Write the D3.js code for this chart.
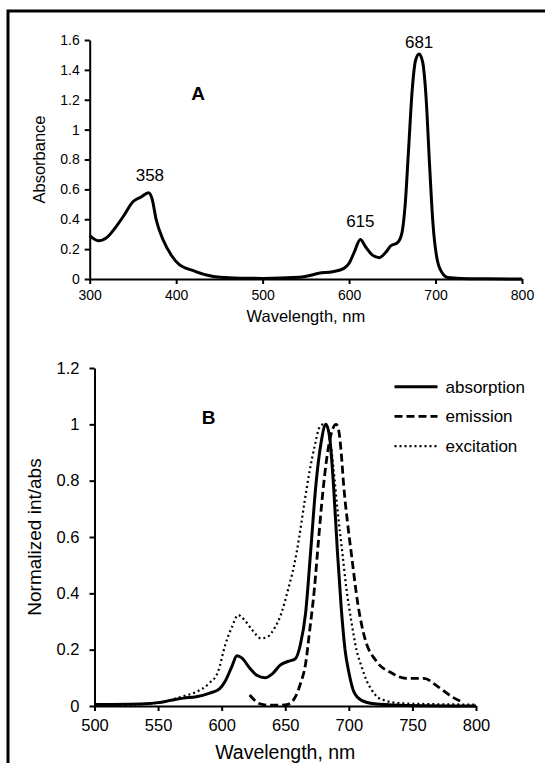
<!DOCTYPE html>
<html>
<head>
<meta charset="utf-8">
<script src="https://cdn.jsdelivr.net/npm/d3@7"></script>
<style>
  body { margin: 0; background: #fff; }
  svg { display: block; font-family: "Liberation Sans", Arial, sans-serif; }
  .axis path, .axis line { stroke: #000; stroke-width: 2; }
  .axis text { fill: #000; }
</style>
</head>
<body>
<div id="chart"></div>
<script>
// panel A: absorbance spectrum
const wlA = [300, 310, 320, 329, 339, 350, 360, 368, 372, 377, 385, 395, 404, 420, 435, 451, 474,
  500, 542, 552, 565, 581, 594, 600, 606, 613, 619, 627, 635, 643, 648, 656, 661, 665, 669, 673,
  677, 681, 685, 689, 693, 697, 702, 708, 714, 730, 760, 800];
const absA = [0.29, 0.256, 0.279, 0.339, 0.42, 0.517, 0.551, 0.578, 0.54, 0.395, 0.261, 0.154, 0.094,
  0.056, 0.027, 0.011, 0.005, 0.004, 0.011, 0.02, 0.038, 0.049, 0.071, 0.105, 0.18, 0.265, 0.216,
  0.16, 0.143, 0.183, 0.221, 0.243, 0.306, 0.507, 0.886, 1.265, 1.466, 1.506, 1.455, 1.22, 0.774,
  0.373, 0.127, 0.038, 0.01, 0.004, 0.002, 0];
const peakLabels = [358, 615, 681];
const peakAt = [
  {wl: 365, y: 0.58},
  {wl: 613, y: 0.266},
  {wl: 681, y: 1.506}
];
const ticksAX = [300, 400, 500, 600, 700, 800];
const ticksAY = [0, 0.2, 0.4, 0.6, 0.8, 1, 1.2, 1.4, 1.6];

// panel B: normalized spectra
const wlAbsB = [500, 540, 550, 560, 570, 580, 590, 598, 603, 608, 612, 616, 622, 628, 634, 640, 646,
  652, 658, 662, 666, 670, 674, 678, 682, 685, 688, 691, 694, 697, 700, 704, 710, 720, 740, 800];
const absB = [0.005, 0.008, 0.012, 0.02, 0.028, 0.033, 0.045, 0.06, 0.09, 0.14, 0.178, 0.17, 0.135,
  0.108, 0.1, 0.115, 0.145, 0.158, 0.168, 0.22, 0.33, 0.55, 0.78, 0.93, 1.0, 0.95, 0.78, 0.55, 0.35,
  0.2, 0.12, 0.05, 0.02, 0.008, 0.003, 0];
const wlEmB = [622, 626, 630, 636, 645, 652, 658, 662, 666, 669, 673, 676, 678.5, 681, 684, 687, 690,
  692, 694, 696, 699, 702, 707, 713, 721, 734, 745, 759, 770, 781, 789];
const emB = [0.039, 0.02, 0.008, 0.003, 0.003, 0.006, 0.033, 0.08, 0.15, 0.26, 0.42, 0.58, 0.71, 0.82,
  0.92, 0.98, 1.0, 0.98, 0.9, 0.78, 0.65, 0.54, 0.365, 0.234, 0.163, 0.116, 0.098, 0.098, 0.069,
  0.033, 0.015];
const wlExB = [500, 530, 550, 560, 570, 580, 590, 597, 603, 608, 613, 618, 624, 631, 636, 642, 647,
  652, 657, 661, 665, 669, 673, 677, 680, 683, 686, 688, 691, 695, 698, 702, 706, 710, 714, 718,
  723, 728, 740, 760, 800];
const exB = [0.003, 0.005, 0.012, 0.022, 0.035, 0.05, 0.08, 0.12, 0.22, 0.28, 0.323, 0.305, 0.27,
  0.24, 0.245, 0.28, 0.33, 0.41, 0.5, 0.6, 0.72, 0.83, 0.92, 0.99, 1.0, 0.99, 0.92, 0.84, 0.7, 0.54,
  0.42, 0.3, 0.2, 0.14, 0.09, 0.057, 0.03, 0.02, 0.01, 0.007, 0.005];
const seriesNames = ["absorption", "emission", "excitation"];
const ticksBX = [500, 550, 600, 650, 700, 750, 800];
const ticksBY = [0, 0.2, 0.4, 0.6, 0.8, 1, 1.2];

const W = 545, H = 763;
const svg = d3.select("#chart").append("svg")
  .attr("width", W)
  .attr("height", H);

// outer frame (right and bottom sides fall outside the picture)
svg.append("path")
  .attr("d", "M8," + H + "V11H" + W)
  .attr("fill", "none")
  .attr("stroke", "#000")
  .attr("stroke-width", 3);

// ---- panel A
const xA = d3.scaleLinear().domain([300, 800]).range([89.7, 522]);
const yA = d3.scaleLinear().domain([0, 1.6]).range([279, 40]);

svg.append("g")
  .attr("class", "axis")
  .attr("transform", "translate(0," + yA(0) + ")")
  .call(d3.axisBottom(xA).tickValues(ticksAX).tickSize(5).tickPadding(6).tickSizeOuter(0))
  .call(g => g.selectAll("text").attr("font-size", 14).attr("font-weight", 500));

svg.append("g")
  .attr("class", "axis")
  .attr("transform", "translate(" + xA(300) + ",0)")
  .call(d3.axisLeft(yA).tickValues(ticksAY).tickFormat(d3.format("")).tickSize(5).tickPadding(5).tickSizeOuter(0))
  .call(g => g.selectAll("text").attr("font-size", 14));

svg.append("text")
  .attr("x", (xA(300) + xA(800)) / 2)
  .attr("y", 322)
  .attr("text-anchor", "middle")
  .attr("font-size", 16.5)
  .text("Wavelength, nm");

svg.append("text")
  .attr("transform", "translate(45," + yA(0.8) + ") rotate(-90)")
  .attr("text-anchor", "middle")
  .attr("font-size", 16.5)
  .text("Absorbance");

svg.append("text")
  .attr("x", 198)
  .attr("y", 100)
  .attr("text-anchor", "middle")
  .attr("font-size", 19)
  .attr("font-weight", "bold")
  .text("A");

const lineA = d3.line()
  .x((d, i) => xA(wlA[i]))
  .y(d => yA(d))
  .curve(d3.curveMonotoneX);

svg.append("path")
  .attr("d", lineA(absA))
  .attr("fill", "none")
  .attr("stroke", "#000")
  .attr("stroke-width", 3);

const labelShift = [4, 0, 0];
const labelLift = [11, 12, 6];
svg.selectAll("text.peak")
  .data(peakLabels)
  .enter().append("text")
  .attr("class", "peak")
  .attr("x", (d, i) => xA(peakAt[i].wl) + labelShift[i])
  .attr("y", (d, i) => yA(peakAt[i].y) - labelLift[i])
  .attr("text-anchor", "middle")
  .attr("font-size", 17)
  .text(d => d);

// ---- panel B
const xB = d3.scaleLinear().domain([500, 800]).range([94.5, 476]);
const yB = d3.scaleLinear().domain([0, 1.2]).range([706, 368]);

svg.append("g")
  .attr("class", "axis")
  .attr("transform", "translate(0," + yB(0) + ")")
  .call(d3.axisBottom(xB).tickValues(ticksBX).tickSize(5).tickPadding(8).tickSizeOuter(0))
  .call(g => g.selectAll("text").attr("font-size", 16.5));

svg.append("g")
  .attr("class", "axis")
  .attr("transform", "translate(" + xB(500) + ",0)")
  .call(d3.axisLeft(yB).tickValues(ticksBY).tickFormat(d3.format("")).tickSize(5).tickPadding(10).tickSizeOuter(0))
  .call(g => g.selectAll("text").attr("font-size", 16.5));

svg.append("text")
  .attr("x", (xB(500) + xB(800)) / 2)
  .attr("y", 759)
  .attr("text-anchor", "middle")
  .attr("font-size", 19.5)
  .text("Wavelength, nm");

svg.append("text")
  .attr("transform", "translate(41," + 537 + ") rotate(-90)")
  .attr("text-anchor", "middle")
  .attr("font-size", 19)
  .text("Normalized int/abs");

svg.append("text")
  .attr("x", 208.5)
  .attr("y", 423.5)
  .attr("text-anchor", "middle")
  .attr("font-size", 19)
  .attr("font-weight", "bold")
  .text("B");

const dashes = ["none", "8,4", "2,3"];
const widths = [3, 2.8, 2.2];
const series = [
  {wl: wlAbsB, v: absB},
  {wl: wlEmB, v: emB},
  {wl: wlExB, v: exB}
];

series.forEach((s, k) => {
  const line = d3.line()
    .x((d, i) => xB(s.wl[i]))
    .y(d => yB(d))
    .curve(d3.curveMonotoneX);
  svg.append("path")
    .attr("d", line(s.v))
    .attr("fill", "none")
    .attr("stroke", "#000")
    .attr("stroke-width", widths[k])
    .attr("stroke-dasharray", dashes[k]);
});

// legend
const legend = svg.append("g").attr("transform", "translate(394.5,386.7)");
seriesNames.forEach((name, k) => {
  legend.append("line")
    .attr("x1", 0).attr("x2", 43)
    .attr("y1", k * 29.7).attr("y2", k * 29.7)
    .attr("stroke", "#000")
    .attr("stroke-width", widths[k])
    .attr("stroke-dasharray", dashes[k]);
  legend.append("text")
    .attr("x", 51)
    .attr("y", k * 29.7)
    .attr("dy", "0.35em")
    .attr("font-size", 17)
    .text(name);
});
</script>
</body>
</html>
